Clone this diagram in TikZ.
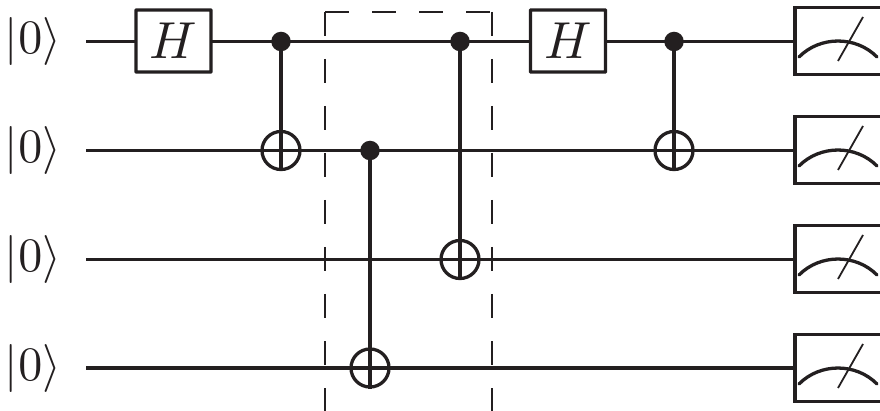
\documentclass[tikz,border=0pt]{standalone}
\definecolor{ink}{HTML}{231F20}
\tikzset{
  wire/.style={line width=3.3pt,draw=ink},
  link/.style={line width=3.3pt,draw=ink},
  gatebox/.style={draw=ink,line width=3.4pt,fill=white,minimum width=75pt,minimum height=62pt,inner sep=0pt,rounded corners=0.5pt},
  glabel/.style={text=ink,scale=5.2,inner sep=0pt},
  ketlabel/.style={text=ink,scale=4.8,inner sep=0pt,anchor=center},
  ctrl/.style={circle,fill=ink,draw=none,minimum size=19.5pt,inner sep=0pt},
  target/.style={circle,draw=ink,line width=3.3pt,minimum size=38pt,inner sep=0pt},
  meterbox/.style={draw=ink,line width=3.3pt,fill=white,minimum width=90pt,minimum height=67pt,inner sep=0pt},
  dashbox/.style={draw=ink,line width=1.5pt,dash pattern=on 24pt off 23pt},
}
\begin{document}
\begin{tikzpicture}[x=1pt,y=-1pt]
\useasboundingbox (0,0) rectangle (880,411);
\clip (0,0) rectangle (880,411);
% wire start points
\coordinate (s1) at (86,41.5);
\coordinate (s2) at (86,150.5);
\coordinate (s3) at (86,259.5);
\coordinate (s4) at (86,368);
% kets
\node[ketlabel] (k1) at (33,41.5) {$|0\rangle$};
\node[ketlabel] (k2) at (33,150.5) {$|0\rangle$};
\node[ketlabel] (k3) at (33,259.5) {$|0\rangle$};
\node[ketlabel] (k4) at (33,368) {$|0\rangle$};
% meters
\node[meterbox] (m1) at (840,41) {};
\node[meterbox] (m2) at (840,150) {};
\node[meterbox] (m3) at (840,259) {};
\node[meterbox] (m4) at (840,368) {};
% wires
\draw[wire] (s1) -- (m1.west |- s1);
\draw[wire] (s2) -- (m2.west |- s2);
\draw[wire] (s3) -- (m3.west |- s3);
\draw[wire,line width=3.8pt] (s4) -- (m4.west |- s4);
% dashed region
\coordinate (da) at (325,411);
\coordinate (db) at (325,12);
\coordinate (dc) at (492,12);
\coordinate (dd) at (492,411);
\draw[dashbox] (db) -- (da);
\draw[dashbox] (db) -- (dc);
\draw[dashbox] (dc) -- (dd);
% H gates
\node[gatebox] (h1) at (173.5,41) {};
\node[glabel] at (h1) {$H$};
\node[gatebox] (h2) at (568,41) {};
\node[glabel] at (h2) {$H$};
% CNOTs
\foreach \n/\x/\a/\b in {a/281/41.5/150.5,b/370/150.5/368,c/460/41.5/259.5,d/674/41.5/150.5}{
  \node[ctrl] (c\n) at (\x,\a) {};
  \node[target] (t\n) at (\x,\b) {};
  \draw[link] (c\n.center) -- (t\n.south);
}
% meter dials
\foreach \m in {1,2,3,4}{
  \draw[ink,line width=3.3pt,line cap=round] ([shift={(-41,16)}]m\m.center) .. controls ([shift={(-20,-5.3)}]m\m.center) and ([shift={(16,-5.3)}]m\m.center) .. ([shift={(37,16)}]m\m.center);
  \draw[ink,line width=1.8pt] ([shift={(-2,20)}]m\m.center) -- ([shift={(23,-24)}]m\m.center);
}
\end{tikzpicture}
\end{document}
